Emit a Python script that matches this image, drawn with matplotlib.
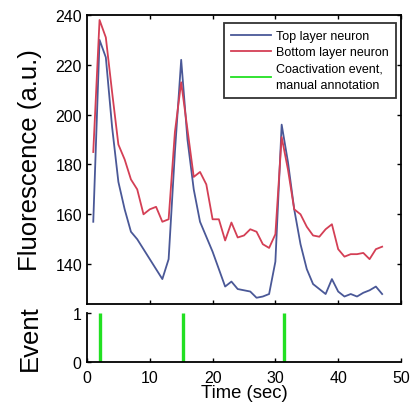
import matplotlib
matplotlib.use("Agg")
import matplotlib.pyplot as plt
import numpy as np

plt.rcParams['font.family'] = ['Liberation Sans', 'DejaVu Sans']

time_sec = list(range(1, 48))
top_layer = [157, 230, 223, 195, 173, 162, 153, 150, 146, 142,
             138, 134, 142, 185, 222, 190, 170, 157, 151, 145,
             138, 131, 133, 130, 129.5, 129, 126.5, 127, 128, 141,
             196, 181, 162, 148, 138, 132, 130, 128, 134, 129,
             127, 128, 127, 128.5, 129.5, 131, 128]
bottom_layer = [185, 238, 231, 209, 188, 182, 174, 170, 160, 162,
                163, 157, 158, 193, 213, 194, 175, 177, 172, 158,
                158, 149.5, 156.7, 150.7, 151.5, 154, 153, 148, 146.5, 152,
                191, 178, 162, 160, 155, 151.5, 151, 154, 156, 146,
                143, 144, 144, 144.5, 142, 146, 147]
event_times = [2.1, 15.3, 31.4]
event_values = [1, 1, 1]

labels = ["Top layer neuron", "Bottom layer neuron",
          "Coactivation event,\nmanual annotation"]
c_blue = "#4a5897"
c_red = "#d43f55"
c_green = "#22e022"

fig = plt.figure(figsize=(4.19, 4.06), dpi=100)
ax1 = fig.add_axes([0.2076, 0.2488, 0.7494, 0.7118])
ax2 = fig.add_axes([0.2076, 0.106, 0.7494, 0.1206])

l1, = ax1.plot(time_sec, top_layer, color=c_blue, lw=1.3)
l2, = ax1.plot(time_sec, bottom_layer, color=c_red, lw=1.3)
l3, = ax1.plot([], [], color=c_green, lw=1.3)
ax1.set_xlim(0, 50)
ax1.set_ylim(124, 240)
ax1.set_yticks([140, 160, 180, 200, 220, 240])
ax1.set_xticks([10, 20, 30, 40, 50])
ax1.tick_params(axis='x', labelbottom=False)
ax1.tick_params(direction='in', top=True, right=True, length=3, width=1,
                labelsize=11.5)
for s in ax1.spines.values():
    s.set_linewidth(1.3)
ax1.set_ylabel("Fluorescence (a.u.)", fontsize=18.5)
ax1.yaxis.set_label_coords(-0.143, 0.5)
leg = ax1.legend([l1, l2, l3], labels, loc='upper right', fontsize=9,
                 bbox_to_anchor=(0.984, 0.972),
                 frameon=True, fancybox=False, edgecolor='black',
                 borderaxespad=0.0, handlelength=3.2, handletextpad=0.4,
                 labelspacing=0.35, borderpad=0.55)
for t in leg.get_texts():
    t.set_linespacing(1.45)
leg.get_frame().set_linewidth(1.3)

ax2.vlines(event_times, 0, event_values, color=c_green, lw=2.4)
ax2.set_xlim(0, 50)
ax2.set_ylim(0, 1)
ax2.set_yticks([0, 1])
ax2.set_xticks([0, 10, 20, 30, 40, 50])
ax2.spines['top'].set_visible(False)
ax2.spines['right'].set_visible(False)
for s in ax2.spines.values():
    s.set_linewidth(1.3)
ax2.tick_params(direction='in', length=3, width=1, labelsize=11.5)
ax2.tick_params(axis='x', pad=6)
ax2.tick_params(axis='y', pad=4)
ax2.set_xlabel("Time (sec)", fontsize=13.3, labelpad=-1)
ax2.set_ylabel("Event", fontsize=18.5)
ax2.yaxis.set_label_coords(-0.143, 0.5)

fig.savefig("out.png", dpi=100)
